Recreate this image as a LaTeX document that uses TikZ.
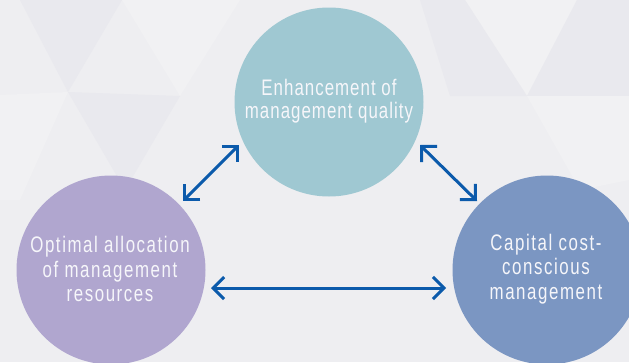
\documentclass[tikz,border=0pt]{standalone}
\usepackage{fontspec}
\setmainfont{Liberation Sans}
\newfontfamily\cfont[FakeStretch=0.75,LetterSpace=7]{Liberation Sans}
\newfontfamily\cfonttop[FakeStretch=0.75,LetterSpace=4.5]{Liberation Sans}
\usetikzlibrary{arrows.meta}
\definecolor{bgbase}{HTML}{EEEEF1}
\definecolor{bgdark}{HTML}{E9E9EE}
\definecolor{bglight}{HTML}{F1F1F3}
\definecolor{cteal}{HTML}{9FC8D2}
\definecolor{clav}{HTML}{B0A6CF}
\definecolor{cblue}{HTML}{7B96C2}
\definecolor{arrowblue}{HTML}{0B5AAB}
\definecolor{txt}{HTML}{F6F6FA}
\tikzset{
  bubble/.style={circle, minimum size=189pt, inner sep=0pt, text=txt, align=center},
  link/.style={arrowblue, line width=3pt, {Straight Barb[length=11pt,width=22pt]}-{Straight Barb[length=11pt,width=22pt]}},
}
\begin{document}
\begin{tikzpicture}[x=1pt,y=-1pt]
\useasboundingbox (0,0) rectangle (629,362);
\clip (0,0) rectangle (629,362);
\fill[bgbase] (0,0) rectangle (629,362);
% faint background triangles
\fill[bgdark] (20,0) -- (122,0) -- (68,92) -- cycle;
\fill[bglight] (0,95) -- (68,92) -- (20,200) -- (0,200) -- cycle;
\fill[bglight] (122,0) -- (240,0) -- (180,96) -- cycle;
\fill[bgdark] (68,92) -- (180,96) -- (125,190) -- cycle;
\fill[bglight] (465,0) -- (577,0) -- (527,96) -- cycle;
\fill[bgdark] (420,0) -- (465,0) -- (527,96) -- (450,96) -- cycle;
\fill[bgdark] (577,0) -- (629,0) -- (629,96) -- (527,96) -- cycle;
\fill[bglight] (527,96) -- (629,96) -- (629,180) -- (580,190) -- cycle;
% circles
\node[bubble, fill=cteal] (T) at (329,102) {};
\node[bubble, fill=clav] (L) at (111,270) {};
\node[bubble, fill=cblue] (R) at (547,270) {};
% texts
\node[text=txt, align=center, font=\cfonttop\fontsize{22.5}{23.5}\selectfont] (Tt) at (329,101) {Enhancement of\\management quality};
\node[text=txt, align=center, font=\cfont\fontsize{22.5}{24.5}\selectfont] (Lt) at (110,269) {Optimal allocation\\of management\\resources};
\node[text=txt, align=center, font=\cfont\fontsize{22.5}{24.5}\selectfont] (Rt) at (546,269) {Capital cost-\\conscious\\management};
% arrows
\coordinate (a1) at (183,201);
\coordinate (a2) at (239,145);
\coordinate (b1) at (420,145);
\coordinate (b2) at (477,201);
\coordinate (c1) at (211,288);
\coordinate (c2) at (446,288);
\draw[link] (a1) -- (a2);
\draw[link] (b1) -- (b2);
\draw[link] (c1) -- (c2);
\end{tikzpicture}
\end{document}
